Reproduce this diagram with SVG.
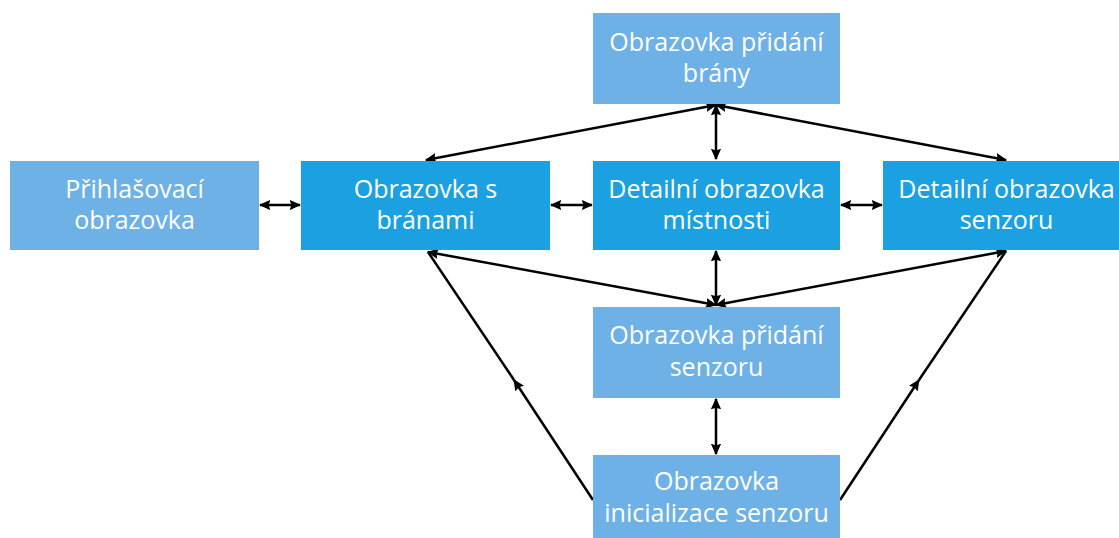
<svg xmlns="http://www.w3.org/2000/svg" width="1119" height="538" viewBox="0 0 1119 538">
<defs>
<marker id="ah" viewBox="0 0 10 10" refX="9" refY="5" markerWidth="4.6" markerHeight="4.6" orient="auto-start-reverse" markerUnits="strokeWidth">
<path d="M0,0.5 L10,5 L0,9.5 L1.5,5 z" fill="#000"/>
</marker>
<style>
.light{fill:#6DB1E6}
.dark{fill:#1BA1E2}
.t{font-family:"Open Sans","Noto Sans",sans-serif;font-size:25px;fill:#fff;text-anchor:middle}
.c{stroke:#000;stroke-width:2.5;fill:none}
.b{marker-start:url(#ah);marker-end:url(#ah)}
.e{marker-end:url(#ah)}
</style>
</defs>
<rect width="1119" height="538" fill="#fff"/>
<g id="connectors">
<line class="c b" x1="260" y1="205" x2="300" y2="205"/>
<line class="c b" x1="551" y1="205" x2="592" y2="205"/>
<line class="c b" x1="841" y1="205" x2="882" y2="205"/>
<line class="c b" x1="716" y1="105" x2="716" y2="159"/>
<line class="c b" x1="716" y1="105" x2="426" y2="160"/>
<line class="c b" x1="716" y1="105" x2="1006" y2="160"/>
<line class="c b" x1="716" y1="251" x2="716" y2="305"/>
<line class="c b" x1="716" y1="305" x2="428" y2="252"/>
<line class="c b" x1="716" y1="305" x2="1006" y2="251"/>
<line class="c b" x1="716" y1="399" x2="716" y2="454"/>
<line class="c e" x1="593" y1="500" x2="514" y2="380"/>
<line class="c" x1="514" y1="380" x2="428" y2="252"/>
<line class="c e" x1="840" y1="500" x2="919" y2="380"/>
<line class="c" x1="919" y1="380" x2="1006" y2="251"/>
</g>
<g id="n-pridani-brany">
<rect class="light" x="593" y="13" width="247" height="91"/>
<text class="t" x="716.5" y="51">Obrazovka přidání</text>
<text class="t" x="716.5" y="82">brány</text>
</g>
<g id="n-prihlasovaci">
<rect class="light" x="10" y="161" width="249" height="89"/>
<text class="t" x="134.5" y="198">Přihlašovací</text>
<text class="t" x="134.5" y="229">obrazovka</text>
</g>
<g id="n-branami">
<rect class="dark" x="301" y="161" width="249" height="89"/>
<text class="t" x="425.5" y="198">Obrazovka s</text>
<text class="t" x="425.5" y="229">bránami</text>
</g>
<g id="n-mistnosti">
<rect class="dark" x="593" y="161" width="247" height="89"/>
<text class="t" x="716.5" y="198">Detailní obrazovka</text>
<text class="t" x="716.5" y="229">místnosti</text>
</g>
<g id="n-senzoru">
<rect class="dark" x="883" y="161" width="247" height="89"/>
<text class="t" x="1006.5" y="198">Detailní obrazovka</text>
<text class="t" x="1006.5" y="229">senzoru</text>
</g>
<g id="n-pridani-senzoru">
<rect class="light" x="593" y="307" width="247" height="91"/>
<text class="t" x="716.5" y="344">Obrazovka přidání</text>
<text class="t" x="716.5" y="376">senzoru</text>
</g>
<g id="n-inicializace">
<rect class="light" x="593" y="455" width="247" height="90"/>
<text class="t" x="716.5" y="490">Obrazovka</text>
<text class="t" x="716.5" y="522">inicializace senzoru</text>
</g>
</svg>
